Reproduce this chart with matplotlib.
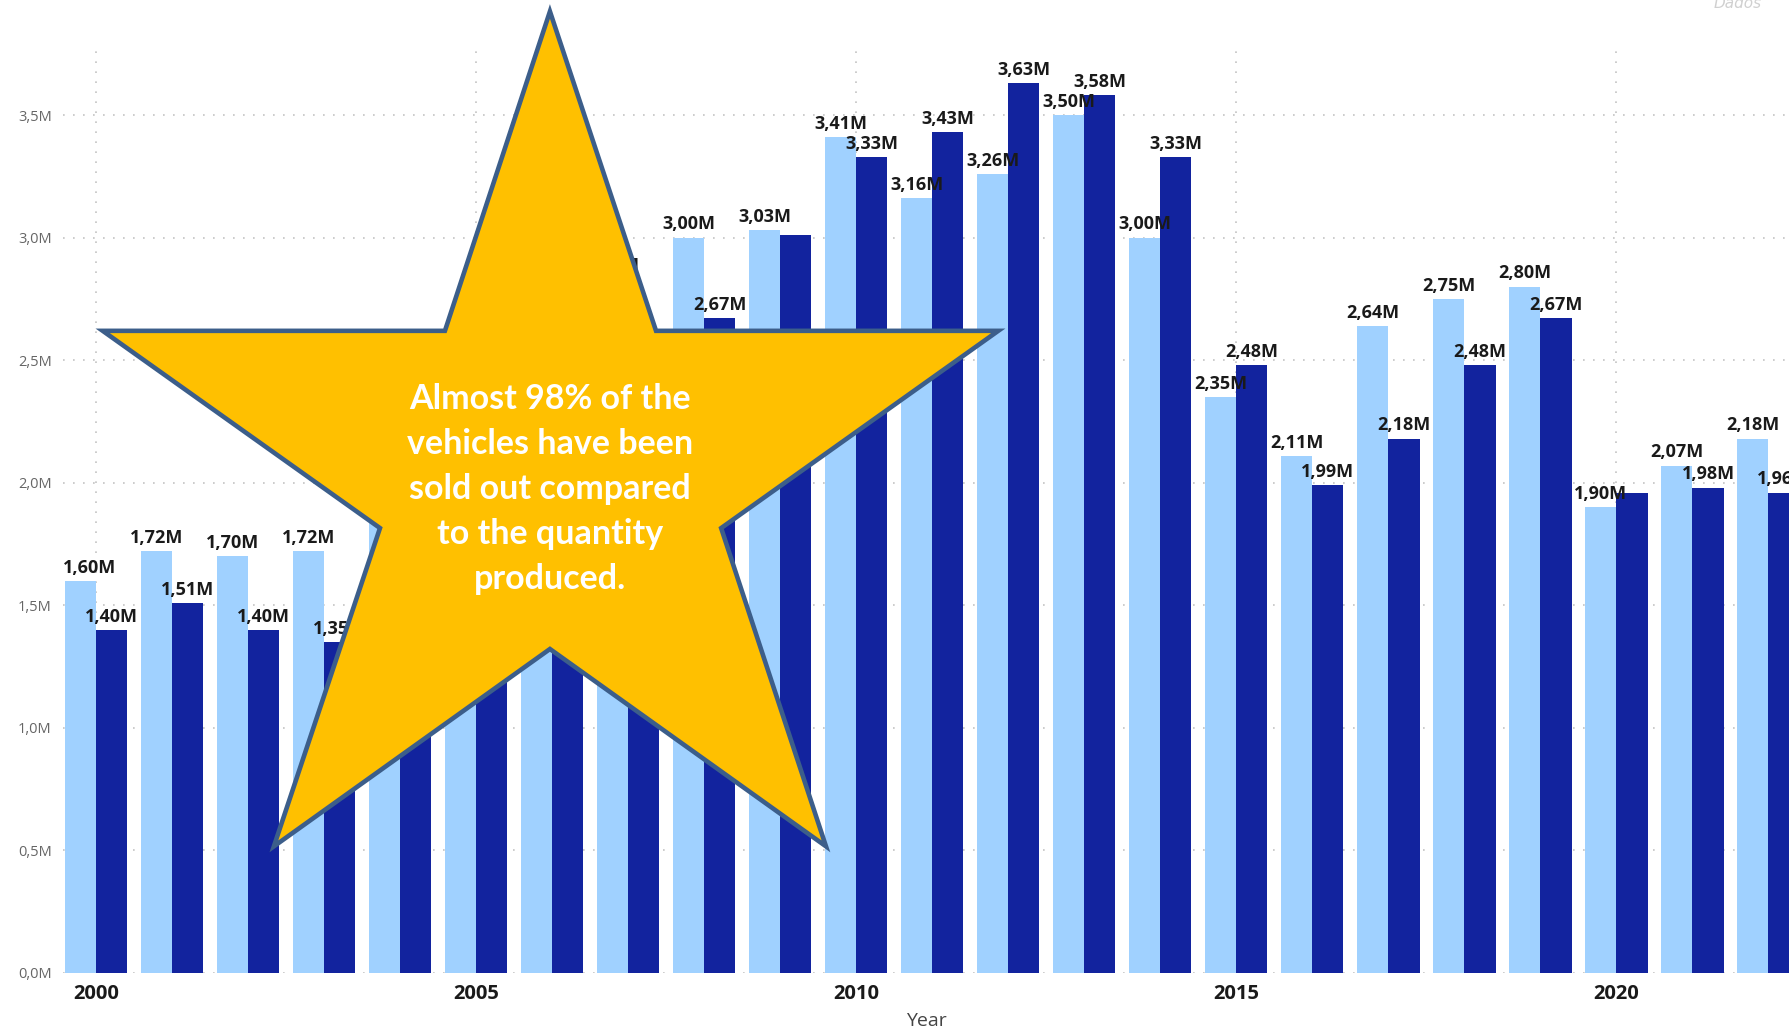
import numpy as np
import matplotlib
matplotlib.use("Agg")
import matplotlib.pyplot as plt
from matplotlib.patches import Polygon

# data (millions of vehicles), values behind the star are estimates
years = [2000, 2001, 2002, 2003, 2004, 2005, 2006, 2007, 2008, 2009, 2010,
         2011, 2012, 2013, 2014, 2015, 2016, 2017, 2018, 2019, 2020, 2021, 2022]
produced = [1.60, 1.72, 1.70, 1.72, 2.10, 2.40, 2.55, 2.83, 3.00, 3.03, 3.41,
            3.16, 3.26, 3.50, 3.00, 2.35, 2.11, 2.64, 2.75, 2.80, 1.90, 2.07, 2.18]
sold = [1.40, 1.51, 1.40, 1.35, 1.55, 1.70, 1.95, 2.45, 2.67, 3.01, 3.33,
        3.43, 3.63, 3.58, 3.33, 2.48, 1.99, 2.18, 2.48, 2.67, 1.96, 1.98, 1.96]
# labels not shown in the report (overlapping or under the star)
hidden_produced_labels = [2004, 2005, 2006]
hidden_sold_labels = [2004, 2005, 2006, 2007, 2009, 2020]

yticks = [0, 0.5, 1.0, 1.5, 2.0, 2.5, 3.0, 3.5]
xticks = [2000, 2005, 2010, 2015, 2020]

callout = "Almost 98% of the\nvehicles have been\nsold out compared\nto the quantity\nproduced."

light = "#A0D1FF"
dark = "#12239E"

def fmt(v):
    return f"{v:.2f}M".replace(".", ",")

fig = plt.figure(figsize=(17.89, 10.30), dpi=100)
ax = fig.add_axes([0.0351, 0.0554, 0.9649, 0.8948])

x = np.array(years)
w = 0.41
b1 = ax.bar(x - w / 2, produced, width=w, color=light, zorder=2)
b2 = ax.bar(x + w / 2, sold, width=w, color=dark, zorder=2)

def add_labels(bars, vals, hidden):
    for rect, v, yr in zip(bars, vals, years):
        if yr in hidden:
            continue
        cx = rect.get_x() + rect.get_width() / 2
        # keep the first label inside the plot area, like the report does
        cx = max(cx, ax.get_xlim()[0] + 0.35)
        ax.annotate(fmt(v), (cx, v), xytext=(0, 3), textcoords="offset points",
                    ha="center", va="bottom", fontsize=13, fontweight="bold",
                    color="#1a1a1a", family="Open Sans", zorder=3)

ax.set_xlim(1999.565, 2022.27)
ax.set_ylim(0, 3.76)
add_labels(b1, produced, hidden_produced_labels)
add_labels(b2, sold, hidden_sold_labels)

ax.set_yticks(yticks)
ax.set_yticklabels([f"{t:.1f}M".replace(".", ",") for t in yticks],
                   fontsize=10.5, color="#666666", family="Open Sans")
ax.set_xticks(xticks)
ax.set_xticklabels([str(t) for t in xticks], fontsize=14.5, fontweight="bold",
                   color="#1a1a1a", family="Open Sans")
ax.tick_params(axis="both", length=0)
ax.tick_params(axis="y", pad=8)
ax.tick_params(axis="x", pad=8)
ax.set_xlabel("Year", fontsize=14, color="#444444", family="Open Sans", labelpad=6)

ax.grid(True, axis="both", linestyle=(0, (1, 5)), color="#c4c4c4", linewidth=1.2, zorder=0)
ax.set_axisbelow(True)
for s in ax.spines.values():
    s.set_visible(False)

# star callout drawn on top of the chart
star = [(0.3074, 0.9889), (0.3667, 0.6788), (0.5580, 0.6788), (0.4031, 0.4873),
        (0.4617, 0.1783), (0.3074, 0.3699), (0.1531, 0.1783), (0.2124, 0.4873),
        (0.0574, 0.6788), (0.2487, 0.6788)]
fig.add_artist(Polygon(star, closed=True, transform=fig.transFigure,
                       facecolor="#FFC000", edgecolor="#3C5E8A",
                       linewidth=3.3, joinstyle="miter", zorder=10))
fig.text(0.3074, 0.525, callout, ha="center", va="center", color="white",
         fontsize=24.5, fontweight="bold", family="Lato", linespacing=1.5, zorder=11)

# faint watermark at the top right corner, mostly cut off
fig.text(0.958, 1.004, "Dados", ha="left", va="top", color="#d0d0d0",
         fontsize=11, style="italic", zorder=1)

fig.savefig("out.png", dpi=100)
